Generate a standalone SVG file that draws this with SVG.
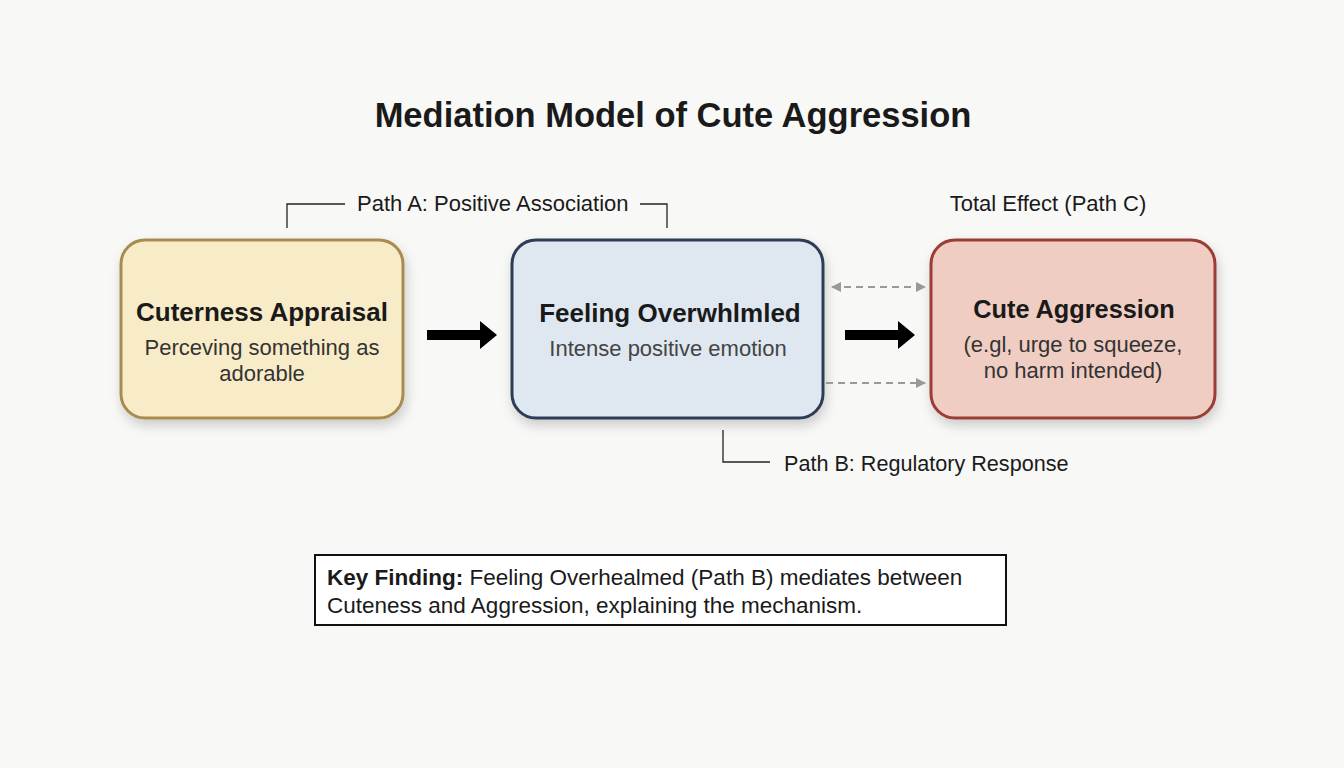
<svg xmlns="http://www.w3.org/2000/svg" width="1344" height="768" viewBox="0 0 1344 768">
<defs>
<filter id="sh" x="-20%" y="-20%" width="140%" height="150%">
<feDropShadow dx="2" dy="6" stdDeviation="6" flood-color="#000" flood-opacity="0.18"/>
</filter>
<marker id="gh" viewBox="0 0 10 10" refX="9" refY="5" markerWidth="10" markerHeight="10" markerUnits="userSpaceOnUse" orient="auto-start-reverse">
<path d="M0,0 L10,5 L0,10 z" fill="#999"/>
</marker>
<style>
text{font-family:"Liberation Sans",Arial,sans-serif;fill:#1a1a1a}
.t{font-size:34.5px;font-weight:bold;text-anchor:middle}
.h{font-size:26px;font-weight:bold;text-anchor:middle}
.s{font-size:22px;text-anchor:middle;fill:#333}
.l{font-size:22px}
.k{font-size:22.5px}
.br{fill:none;stroke:#222;stroke-width:1.3}
.dash{stroke:#999;stroke-width:2;stroke-dasharray:7 5;fill:none}
</style>
</defs>
<rect width="1344" height="768" fill="#f8f8f7"/>
<text class="t" x="673" y="127">Mediation Model of Cute Aggression</text>

<g id="node-appraisal">
<rect x="121" y="240" width="282" height="178" rx="24" fill="#f8ecc8" stroke="#a88c50" stroke-width="3" filter="url(#sh)"/>
<text class="h" x="262" y="321">Cuterness Appraisal</text>
<text class="s" x="262" y="355">Perceving something as</text>
<text class="s" x="262" y="381">adorable</text>
</g>

<g id="node-overwhelmed">
<rect x="512" y="240" width="311" height="178" rx="24" fill="#dfe8f0" stroke="#2e3e55" stroke-width="3" filter="url(#sh)"/>
<text class="h" x="670" y="322">Feeling Overwhlmled</text>
<text class="s" x="668" y="356" style="fill:#444">Intense positive emotion</text>
</g>

<g id="node-aggression">
<rect x="931" y="240" width="284" height="178" rx="24" fill="#efcdc2" stroke="#9a3c35" stroke-width="3" filter="url(#sh)"/>
<text class="h" x="1074" y="318" style="font-size:25.3px">Cute Aggression</text>
<text class="s" x="1073" y="352">(e.gl, urge to squeeze,</text>
<text class="s" x="1073" y="378">no harm intended)</text>
</g>

<g id="connectors">
<path d="M427,330 H480 V321 L497,335 L480,349 V340 H427 z" fill="#000"/>
<path d="M845,330 H898 V321 L915,335 L898,349 V340 H845 z" fill="#000"/>
<line class="dash" x1="832" y1="287" x2="925" y2="287" marker-start="url(#gh)" marker-end="url(#gh)"/>
<line class="dash" x1="826" y1="383" x2="925" y2="383" marker-end="url(#gh)"/>
<path class="br" d="M287,228 V204 H345"/>
<path class="br" d="M640,204 H667 V228"/>
<path class="br" d="M723,430 V462 H770"/>
</g>

<g id="labels">
<text class="l" x="357" y="211">Path A: Positive Association</text>
<text class="l" x="1048" y="211" text-anchor="middle">Total Effect (Path C)</text>
<text class="l" x="784" y="471" style="font-size:21.6px">Path B: Regulatory Response</text>
</g>

<g id="key-finding">
<rect x="315" y="555" width="691" height="70" fill="#fff" stroke="#111" stroke-width="2"/>
<text class="k" x="327" y="585"><tspan font-weight="bold">Key Finding:</tspan> Feeling Overhealmed (Path B) mediates between</text>
<text class="k" x="327" y="613">Cuteness and Aggression, explaining the mechanism.</text>
</g>
</svg>
